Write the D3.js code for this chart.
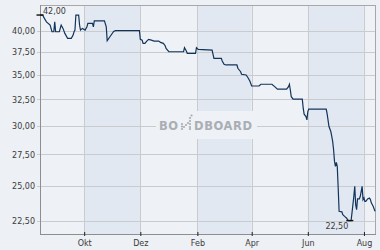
<!DOCTYPE html>
<html><head><meta charset="utf-8">
<script src="https://cdn.jsdelivr.net/npm/d3@7"></script>
<style>
html,body{margin:0;padding:0;background:#edf0f4;}
svg{display:block;}
text{font-family:"DejaVu Sans",sans-serif;}
</style></head>
<body>
<svg id="chart" width="380" height="250"></svg>
<script>
const dates = ["2022-08-14","2022-08-17","2022-08-18","2022-08-21","2022-08-25","2022-08-27","2022-08-29","2022-08-30","2022-08-31","2022-09-04","2022-09-06","2022-09-08","2022-09-10","2022-09-13","2022-09-17","2022-09-19","2022-09-20","2022-09-21","2022-09-22","2022-09-25","2022-09-26","2022-09-27","2022-09-29","2022-10-02","2022-10-04","2022-10-05","2022-10-10","2022-10-11","2022-10-12","2022-10-23","2022-10-25","2022-10-26","2022-10-29","2022-11-02","2022-11-04","2022-11-30","2022-12-01","2022-12-03","2022-12-04","2022-12-06","2022-12-08","2022-12-10","2022-12-13","2022-12-16","2022-12-21","2022-12-23","2022-12-26","2022-12-28","2022-12-29","2023-01-01","2023-01-17","2023-01-18","2023-01-20","2023-01-21","2023-01-30","2023-01-31","2023-02-02","2023-02-17","2023-02-18","2023-02-19","2023-02-27","2023-02-28","2023-03-02","2023-03-04","2023-03-16","2023-03-17","2023-03-20","2023-03-21","2023-03-26","2023-03-28","2023-03-30","2023-04-01","2023-04-09","2023-04-11","2023-04-23","2023-04-26","2023-04-29","2023-05-09","2023-05-11","2023-05-12","2023-05-13","2023-05-14","2023-05-16","2023-05-26","2023-05-27","2023-05-28","2023-05-30","2023-05-31","2023-06-01","2023-06-02","2023-06-21","2023-06-22","2023-06-24","2023-06-26","2023-06-28","2023-06-29","2023-06-30","2023-07-01","2023-07-02","2023-07-03","2023-07-04","2023-07-05","2023-07-08","2023-07-09","2023-07-11","2023-07-13","2023-07-15","2023-07-18","2023-07-19","2023-07-20","2023-07-21","2023-07-22","2023-07-23","2023-07-24","2023-07-25","2023-07-27","2023-07-28","2023-07-29","2023-07-30","2023-07-31","2023-08-01","2023-08-02","2023-08-03","2023-08-05","2023-08-07","2023-08-08","2023-08-09","2023-08-11","2023-08-13"];
const prices = [42.00,42.00,41.73,41.14,40.73,39.92,39.92,41.14,39.92,39.92,40.73,40.33,39.72,39.13,39.13,39.52,39.92,40.12,42.00,42.00,40.73,40.12,40.33,40.12,40.52,40.94,40.94,40.52,41.27,41.27,40.52,38.85,39.32,39.95,40.05,40.05,39.01,38.92,38.54,38.54,38.81,39.01,38.92,38.81,38.81,38.65,38.54,38.26,37.96,37.57,37.57,38.03,37.65,37.39,37.39,38.03,37.84,37.76,37.27,36.83,36.83,36.53,36.16,36.09,36.09,35.73,35.36,35.08,35.01,34.72,34.38,33.86,33.86,34.04,34.04,33.79,33.53,33.53,33.79,34.04,33.45,32.78,32.53,32.53,31.65,31.08,30.86,30.55,31.33,31.56,31.56,31.10,29.94,29.49,28.61,27.90,26.93,26.52,26.84,26.52,24.84,23.14,23.10,22.91,22.79,22.68,22.50,22.50,23.03,23.62,24.22,24.96,23.62,23.26,24.03,24.03,24.22,24.59,24.96,23.98,24.10,23.85,23.85,24.03,24.10,23.98,23.74,23.50,23.14];
const yTicks = [22.5, 25, 27.5, 30, 32.5, 35, 37.5, 40];
const xTickDates = ["2022-10-01","2022-12-01","2023-02-01","2023-04-01","2023-06-01","2023-08-01"];
const xTickLabels = ["Okt","Dez","Feb","Apr","Jun","Aug"];
const xDomain = ["2022-08-14","2023-08-13"];
const yDomain = [21.6, 43.3];

const parse = d3.utcParse("%Y-%m-%d");
const data = dates.map((d,i)=>({date:parse(d), v:prices[i]}));
const tickDates = xTickDates.map(parse);

const L=40, R=375, T=5, B=234;
const x = d3.scaleUtc().domain(xDomain.map(parse)).range([L,R]);
const y = d3.scaleLog().domain(yDomain).range([B,T]);
const de = d3.formatLocale({decimal:",",thousands:".",grouping:[3],currency:["","€"]});
const fmt = de.format(".2f");

const svg = d3.select("#chart");
svg.append("rect").attr("width",380).attr("height",250).attr("fill","#edf0f4");

// bands
const edges = [x.domain()[0], ...tickDates, x.domain()[1]];
for (let i=0;i<edges.length-1;i++){
  svg.append("rect").attr("x",x(edges[i])).attr("y",T)
    .attr("width",x(edges[i+1])-x(edges[i])).attr("height",B-T)
    .attr("fill", i%2===0 ? "#eef2f7" : "#e2e8f1");
}

// gridlines
svg.append("g").selectAll("line").data(yTicks).join("line")
  .attr("x1",L-3).attr("x2",R).attr("y1",d=>Math.round(y(d))+0.5).attr("y2",d=>Math.round(y(d))+0.5)
  .attr("stroke","#c9cbce").attr("stroke-width",1);
svg.append("g").selectAll("line").data(tickDates).join("line")
  .attr("x1",d=>Math.round(x(d))+0.5).attr("x2",d=>Math.round(x(d))+0.5).attr("y1",T).attr("y2",B)
  .attr("stroke","#c9cbce").attr("stroke-width",1);

// watermark
const wm = svg.append("g");
wm.append("rect").attr("x",156).attr("y",111).attr("width",101).attr("height",28).attr("fill","#eef1f5");
wm.append("text").attr("x",159).attr("y",130).attr("font-size",11.5).attr("font-weight","bold")
  .attr("fill","#a9aeb4").attr("letter-spacing",0.6).text("BO");
const nDots = [[182,129],[182,126.5],[182,124],[184,127],[186,125],[188,123],[190,121],[190,124],[190,127],[190,129],[190,118],[191.5,115.5]];
wm.selectAll("circle").data(nDots).join("circle").attr("cx",d=>d[0]).attr("cy",d=>d[1]).attr("r",1.1).attr("fill","#a9aeb4");
wm.append("text").attr("x",194).attr("y",130).attr("font-size",11.5).attr("font-weight","bold")
  .attr("fill","#a9aeb4").attr("letter-spacing",0.6).text("DBOARD");

// axes lines
svg.append("line").attr("x1",L).attr("x2",R).attr("y1",T+0.5).attr("y2",T+0.5).attr("stroke","#a6a8ab");
svg.append("line").attr("x1",R+0.5).attr("x2",R+0.5).attr("y1",T).attr("y2",B).attr("stroke","#a6a8ab");
svg.append("line").attr("x1",L+0.5).attr("x2",L+0.5).attr("y1",T).attr("y2",B+1).attr("stroke","#8c8e91");
svg.append("line").attr("x1",L).attr("x2",R+1).attr("y1",B+0.5).attr("y2",B+0.5).attr("stroke","#8c8e91");

// y axis labels
const yAxis = d3.axisLeft(y).tickValues(yTicks).tickFormat(fmt).tickSize(0).tickPadding(5);
const gy = svg.append("g").attr("transform",`translate(${L},0)`).call(yAxis);
gy.select(".domain").remove();
gy.selectAll("text").attr("font-size",8).attr("fill","#3a3a3a").attr("font-family","DejaVu Sans");

// x axis
const xAxis = d3.axisBottom(x).tickValues(tickDates).tickFormat((d,i)=>xTickLabels[i]).tickSize(4).tickPadding(4);
const gx = svg.append("g").attr("transform",`translate(0,${B-2})`).call(xAxis);
gx.select(".domain").remove();
gx.selectAll(".tick line").attr("stroke","#222");
gx.selectAll("text").attr("font-size",8).attr("fill","#3a3a3a").attr("font-family","DejaVu Sans");

// line
svg.append("path").datum(data)
  .attr("d", d3.line().x(d=>x(d.date)).y(d=>y(d.v)))
  .attr("fill","none").attr("stroke","#12345a").attr("stroke-width",1.2);

// max / min markers
const maxV = d3.max(prices), minV = d3.min(prices);
const maxP = data.find(d=>d.v===maxV), minP = data.find(d=>d.v===minV);
svg.append("line").attr("x1",x(maxP.date)-3.5).attr("x2",x(maxP.date)+3.5)
  .attr("y1",y(maxV)).attr("y2",y(maxV)).attr("stroke","#111").attr("stroke-width",1.4);
svg.append("text").attr("x",x(maxP.date)+3).attr("y",y(maxV)-1.5).attr("font-size",8).attr("fill","#3a3a3a").text(fmt(maxV));
svg.append("line").attr("x1",x(minP.date)-2).attr("x2",x(minP.date)+5)
  .attr("y1",y(minV)).attr("y2",y(minV)).attr("stroke","#111").attr("stroke-width",1.4);
svg.append("text").attr("x",x(minP.date)).attr("y",y(minV)+8.5).attr("text-anchor","end").attr("font-size",8).attr("fill","#3a3a3a").text(fmt(minV));
</script>
</body></html>
